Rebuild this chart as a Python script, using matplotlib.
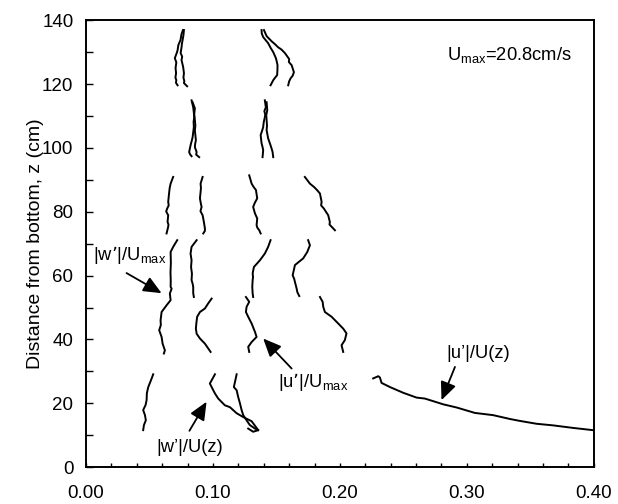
import matplotlib
matplotlib.use('Agg')
import matplotlib.pyplot as plt

plt.rcParams['font.family'] = ['Liberation Sans', 'DejaVu Sans']

# profiles: x = ratio, z = distance from bottom (cm)
# z ~ 120-137 cm
w_top1_x = [0.0764, 0.0752, 0.0745, 0.0728, 0.0722, 0.0715, 0.0700, 0.0712, 0.0706, 0.0710, 0.0705, 0.0712, 0.0709, 0.0722]
w_top1_z = [136.9, 135.5, 133.8, 132.2, 130.6, 129.7, 128.1, 126.8, 125.0, 123.4, 122.0, 121.2, 120.4, 119.6]
w_top2_x = [0.0772, 0.0768, 0.0761, 0.0756, 0.0753, 0.0746, 0.0758, 0.0753, 0.0766, 0.0772, 0.0768, 0.0775, 0.0772, 0.0797]
w_top2_z = [136.9, 135.3, 133.7, 132.6, 131.5, 129.7, 128.6, 127.5, 125.3, 123.4, 122.0, 120.9, 120.3, 119.3]
u_top1_x = [0.1383, 0.1385, 0.1396, 0.1435, 0.1455, 0.1475, 0.1496, 0.1503, 0.1509, 0.1508, 0.1506, 0.1490, 0.1475, 0.1454]
u_top1_z = [136.9, 135.8, 134.7, 132.8, 131.3, 130.0, 128.1, 127.0, 125.9, 124.3, 122.8, 122.0, 121.2, 119.6]
u_top2_x = [0.1402, 0.1423, 0.1462, 0.1488, 0.1514, 0.1540, 0.1567, 0.1601, 0.1598, 0.1620, 0.1638, 0.1628, 0.1612, 0.1600, 0.1593]
u_top2_z = [136.9, 135.0, 133.4, 132.5, 131.5, 130.8, 129.7, 127.8, 126.9, 125.9, 123.7, 122.6, 121.8, 120.8, 119.6]

# z ~ 97-115 cm
w_hi1_x = [0.0832, 0.0845, 0.0850, 0.0853, 0.0848, 0.0850, 0.0845, 0.0840, 0.0832, 0.0824, 0.0813, 0.0820, 0.0832]
w_hi1_z = [114.9, 112.7, 111.0, 109.6, 108.2, 106.5, 104.9, 103.3, 102.0, 100.8, 98.7, 98.0, 97.4]
w_hi2_x = [0.0840, 0.0858, 0.0853, 0.0858, 0.0862, 0.0858, 0.0866, 0.0860, 0.0858, 0.0872, 0.0868, 0.0892]
w_hi2_z = [114.3, 112.4, 110.5, 108.7, 107.0, 105.5, 102.4, 101.2, 100.2, 98.7, 97.9, 97.1]
u_hi1_x = [0.1409, 0.1417, 0.1405, 0.1412, 0.1409, 0.1400, 0.1396, 0.1386, 0.1376, 0.1383, 0.1390, 0.1396, 0.1391]
u_hi1_z = [114.9, 112.7, 111.5, 110.5, 109.6, 108.0, 106.5, 105.2, 104.0, 101.5, 100.4, 99.3, 97.1]
u_hi2_x = [0.1423, 0.1428, 0.1420, 0.1423, 0.1426, 0.1423, 0.1435, 0.1454, 0.1462, 0.1470, 0.1475]
u_hi2_z = [114.3, 111.8, 110.2, 108.7, 107.0, 105.5, 103.0, 100.8, 99.8, 98.7, 97.1]

# z ~ 73-91 cm
w_mid1_x = [0.0687, 0.0667, 0.0660, 0.0656, 0.0648, 0.0652, 0.0640, 0.0632, 0.0648, 0.0643, 0.0650, 0.0648, 0.0635]
w_mid1_z = [90.9, 88.8, 87.5, 86.2, 83.1, 82.0, 81.0, 80.1, 78.9, 76.8, 76.0, 75.3, 73.2]
w_mid2_x = [0.0919, 0.0903, 0.0906, 0.0903, 0.0898, 0.0905, 0.0911, 0.0902, 0.0919, 0.0929, 0.0937, 0.0937, 0.0924]
w_mid2_z = [90.9, 88.8, 87.5, 86.2, 84.2, 82.6, 81.5, 80.2, 78.9, 76.8, 74.8, 74.0, 73.2]
u_mid1_x = [0.1286, 0.1305, 0.1320, 0.1339, 0.1349, 0.1330, 0.1317, 0.1331, 0.1349, 0.1344, 0.1350, 0.1365, 0.1376]
u_mid1_z = [91.4, 88.8, 87.8, 86.8, 84.2, 82.8, 81.5, 79.5, 77.9, 75.8, 75.0, 74.2, 73.2]
u_mid2_x = [0.1724, 0.1764, 0.1795, 0.1820, 0.1843, 0.1856, 0.1852, 0.1874, 0.1908, 0.1921, 0.1918, 0.1935, 0.1961]
u_mid2_z = [90.9, 88.8, 87.8, 86.8, 85.7, 83.1, 82.0, 81.0, 78.9, 76.8, 76.0, 75.3, 74.2]

# z ~ 36-72 cm
w_low1_x = [0.0719, 0.0687, 0.0667, 0.0669, 0.0666, 0.0668, 0.0667, 0.0675, 0.0661, 0.0667, 0.0635, 0.0596, 0.0588, 0.0590, 0.0577, 0.0596, 0.0604, 0.0622, 0.0614]
w_low1_z = [71.1, 69.0, 67.4, 64.0, 61.0, 58.5, 56.5, 55.9, 54.4, 52.3, 50.7, 48.6, 46.0, 44.5, 42.9, 40.8, 38.7, 36.6, 35.6]
w_low2_x = [0.0872, 0.0832, 0.0824, 0.0832, 0.0828, 0.0835, 0.0832, 0.0840, 0.0845, 0.0845, 0.0850]
w_low2_z = [71.1, 69.0, 66.9, 64.8, 62.7, 60.6, 58.6, 57.5, 56.5, 54.5, 53.3]
w_low3_x = [0.0990, 0.0963, 0.0937, 0.0898, 0.0876, 0.0870, 0.0866, 0.0872, 0.0898, 0.0937, 0.0963, 0.0982]
w_low3_z = [52.8, 51.3, 49.7, 48.6, 47.1, 45.2, 43.4, 41.8, 40.3, 38.7, 37.2, 36.1]
u_low1_x = [0.1454, 0.1435, 0.1409, 0.1370, 0.1323, 0.1313, 0.1316, 0.1313, 0.1310, 0.1313, 0.1317]
u_low1_z = [71.1, 69.0, 66.9, 64.8, 62.7, 60.7, 59.6, 58.6, 56.5, 54.4, 53.3]
u_low2_x = [0.1750, 0.1764, 0.1743, 0.1711, 0.1646, 0.1628, 0.1640, 0.1646, 0.1659, 0.1665, 0.1680]
u_low2_z = [71.1, 69.5, 67.4, 65.4, 63.3, 60.1, 59.0, 58.0, 56.0, 54.8, 53.6]
u_low3_x = [0.1260, 0.1286, 0.1265, 0.1260, 0.1278, 0.1305, 0.1331, 0.1344, 0.1305, 0.1278, 0.1286]
u_low3_z = [53.3, 51.8, 50.2, 48.6, 47.1, 45.0, 42.4, 40.8, 39.2, 37.7, 36.1]
u_low4_x = [0.1843, 0.1864, 0.1869, 0.1882, 0.1935, 0.1987, 0.2026, 0.2052, 0.2039, 0.2013, 0.2026]
u_low4_z = [53.3, 51.8, 50.2, 48.6, 47.1, 45.0, 43.4, 41.9, 39.8, 38.2, 36.1]

# z ~ 11-29 cm
w_bot1_x = [0.0530, 0.0512, 0.0491, 0.0480, 0.0478, 0.0470, 0.0451, 0.0465, 0.0472, 0.0457, 0.0451]
w_bot1_z = [29.1, 27.2, 25.1, 23.2, 21.0, 19.5, 17.9, 16.3, 14.7, 13.2, 11.6]
wz_bot_x = [0.1016, 0.0976, 0.0990, 0.1016, 0.1042, 0.1094, 0.1134, 0.1187, 0.1239, 0.1305, 0.1357, 0.1317, 0.1278]
wz_bot_z = [29.1, 26.2, 25.1, 23.1, 21.5, 19.4, 18.8, 16.9, 15.7, 14.4, 11.6, 11.1, 12.1]
u_bot_x = [0.1187, 0.1165, 0.1187, 0.1199, 0.1213, 0.1226, 0.1239, 0.1265, 0.1291, 0.1331, 0.1357]
u_bot_z = [29.1, 25.1, 24.1, 22.0, 20.0, 17.9, 16.3, 14.7, 13.2, 12.1, 11.6]
uz_x = [0.2262, 0.2302, 0.2315, 0.2328, 0.2394, 0.2499, 0.2604, 0.2669, 0.2813, 0.2919, 0.3063, 0.3207, 0.3339, 0.3417, 0.3549, 0.3679, 0.3837, 0.3994]
uz_z = [27.8, 28.5, 28.1, 26.4, 25.1, 23.3, 21.8, 21.5, 19.7, 18.7, 17.0, 16.3, 15.1, 14.5, 13.6, 13.1, 12.3, 11.6]

profiles = [
	(w_top1_x, w_top1_z), (w_top2_x, w_top2_z), (u_top1_x, u_top1_z), (u_top2_x, u_top2_z),
	(w_hi1_x, w_hi1_z), (w_hi2_x, w_hi2_z), (u_hi1_x, u_hi1_z), (u_hi2_x, u_hi2_z),
	(w_mid1_x, w_mid1_z), (w_mid2_x, w_mid2_z), (u_mid1_x, u_mid1_z), (u_mid2_x, u_mid2_z),
	(w_low1_x, w_low1_z), (w_low2_x, w_low2_z), (w_low3_x, w_low3_z),
	(u_low1_x, u_low1_z), (u_low2_x, u_low2_z), (u_low3_x, u_low3_z), (u_low4_x, u_low4_z),
	(w_bot1_x, w_bot1_z), (wz_bot_x, wz_bot_z), (u_bot_x, u_bot_z), (uz_x, uz_z),
]

fig = plt.figure(figsize=(6.18, 5.04), dpi=100)
ax = fig.add_axes([0.139, 0.073, 0.822, 0.887])

for x, z in profiles :
	ax.plot(x, z, color='black', lw=1.4)

# labels and arrows (tail, tip)
arrow = dict(arrowstyle='-|>,head_length=0.5,head_width=0.22', mutation_scale=22, lw=1.3, color='black', shrinkA=0, shrinkB=0)
ax.annotate('', xy=(0.0596, 54.5), xytext=(0.032, 60.8), arrowprops=arrow)
ax.annotate('', xy=(0.095, 20.5), xytext=(0.0815, 11.4), arrowprops=arrow)
ax.annotate('', xy=(0.1396, 40.3), xytext=(0.162, 30.9), arrowprops=arrow)
ax.annotate('', xy=(0.280, 21.0), xytext=(0.2906, 31.4), arrowprops=arrow)

fs = 13.2
ax.text(0.0053, 66.5, "|w\u2019|/U$_{\\mathregular{max}}$", fontsize=fs, va='center', ha='left')
ax.text(0.082, 6.3, "|w\u2019|/U(z)", fontsize=fs, va='center', ha='center')
ax.text(0.151, 26.7, "|u\u2019|/U$_{\\mathregular{max}}$", fontsize=fs, va='center', ha='left')
ax.text(0.284, 35.7, "|u\u2019|/U(z)", fontsize=fs, va='center', ha='left')
ax.text(0.284, 129, "U$_{\\mathregular{max}}$=20.8cm/s", fontsize=fs, va='center', ha='left')

ax.set_xlim(0, 0.4)
ax.set_ylim(0, 140)
ax.set_xticks([0.0, 0.1, 0.2, 0.3, 0.4])
ax.set_xticklabels(['0.00', '0.10', '0.20', '0.30', '0.40'])
ax.set_xticks([0.02 * i for i in range(21)], minor=True)
ax.set_yticks(range(0, 141, 20))
ax.set_yticks(range(0, 141, 10), minor=True)
ax.tick_params(axis='x', which='both', direction='in', length=3, width=1, labelsize=13.5, pad=13)
ax.tick_params(axis='y', which='both', direction='in', length=5, width=1, labelsize=13.5, pad=9)

for s in ax.spines.values() :
	s.set_linewidth(1.4)

ax.set_ylabel('Distance from bottom, z (cm)', fontsize=14)
ax.yaxis.set_label_coords(-0.083, 0.5)

fig.savefig('out.png', dpi=100)
